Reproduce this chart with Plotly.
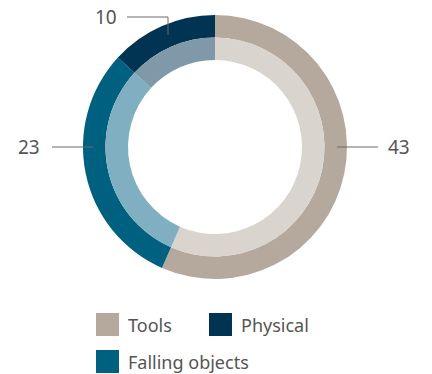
import plotly.graph_objects as go

# Incident categories, in clockwise drawing order from 12 o'clock
categories = ["Tools", "Falling objects", "Physical"]
values = [43, 23, 10]
outer_colors = ["#B5A99D", "#00607F", "#003452"]
inner_colors = ["#D9D4CE", "#7FAFC0", "#7F99A8"]
legend_order = ["Tools", "Physical", "Falling objects"]

W, H = 432, 374
CX, CY = 215, 147          # ring centre in pixels (from top-left)
R_OUT, R_MID, R_IN = 132, 109.5, 87
TEXT = "#555555"
FONT = "Noto Sans"


def dom(r):
    return dict(x=[(CX - r) / W, (CX + r) / W],
                y=[(H - CY - r) / H, (H - CY + r) / H])


fig = go.Figure()
fig.add_trace(go.Pie(labels=categories, values=values, sort=False,
                     direction="clockwise", rotation=0, hole=R_MID / R_OUT,
                     marker=dict(colors=outer_colors, line=dict(width=0)),
                     textinfo="none", hoverinfo="label+value",
                     domain=dom(R_OUT), showlegend=False))
fig.add_trace(go.Pie(labels=categories, values=values, sort=False,
                     direction="clockwise", rotation=0, hole=R_IN / R_MID,
                     marker=dict(colors=inner_colors, line=dict(width=0)),
                     textinfo="none", hoverinfo="label+value",
                     domain=dom(R_MID), showlegend=False))

shapes, annotations = [], []


def px(x, y):
    return x / W, 1 - y / H


def line(pts):
    path = "M" + " L".join(f"{px(x, y)[0]},{px(x, y)[1]}" for x, y in pts)
    shapes.append(dict(type="path", path=path, xref="paper", yref="paper",
                       line=dict(color="#6b6b6b", width=1)))


def label(text, x, y, anchor):
    ax, ay = px(x, y)
    annotations.append(dict(text=text, x=ax, y=ay, xref="paper", yref="paper",
                            xanchor=anchor, yanchor="middle", showarrow=False,
                            font=dict(family=FONT, size=19, color=TEXT)))


val = dict(zip(categories, values))
# value callouts with leader lines
line([(337, 147), (378, 147)])
label(str(val["Tools"]), 386, 147, "left")
line([(52, 147), (93, 147)])
label(str(val["Falling objects"]), 42, 147, "right")
line([(127, 17), (168, 17), (168, 35)])
label(str(val["Physical"]), 119, 17, "right")

# legend built from the category list
color_of = dict(zip(categories, outer_colors))
legend_pos = {"Tools": (96, 313), "Physical": (209, 313), "Falling objects": (96, 350)}
for name in legend_order:
    x0, y0 = legend_pos[name]
    a0, b0 = px(x0, y0)
    a1, b1 = px(x0 + 23, y0 + 23)
    shapes.append(dict(type="rect", xref="paper", yref="paper", x0=a0, x1=a1,
                       y0=b1, y1=b0, fillcolor=color_of[name], line=dict(width=0)))
    tx, ty = px(x0 + 30, y0 + 12)
    annotations.append(dict(text=name, x=tx, y=ty, xref="paper", yref="paper",
                            xanchor="left", yanchor="middle", showarrow=False,
                            font=dict(family=FONT, size=18, color=TEXT)))

fig.update_layout(width=W, height=H, margin=dict(l=0, r=0, t=0, b=0),
                  paper_bgcolor="white", plot_bgcolor="white",
                  shapes=shapes, annotations=annotations, showlegend=False)
fig.write_html("out.html")
